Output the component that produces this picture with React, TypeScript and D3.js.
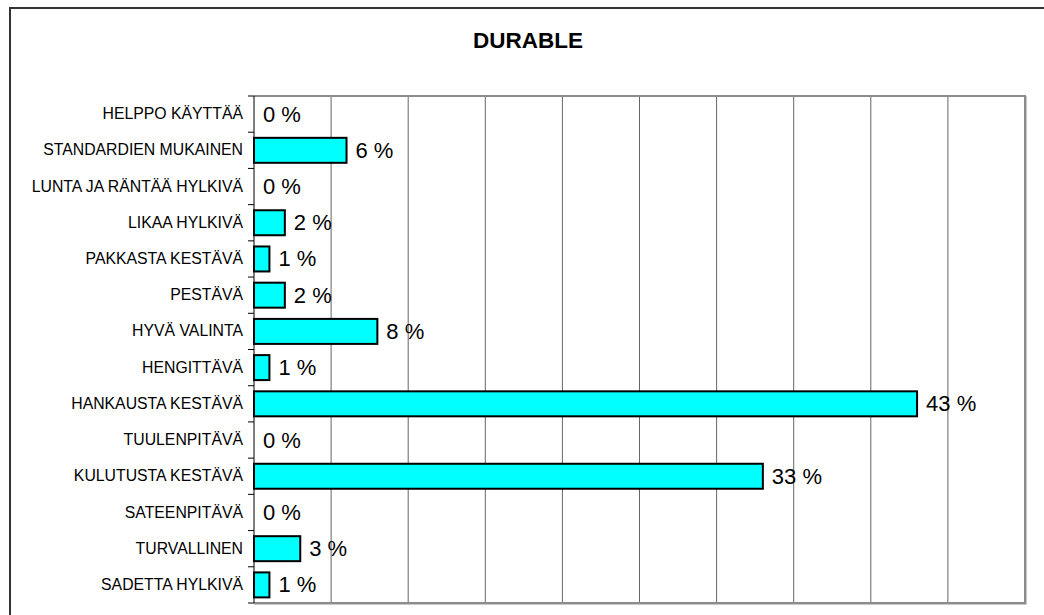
import React, { useRef, useEffect } from 'react';
import * as d3 from 'd3';

const categories = [
  'HELPPO KÄYTTÄÄ',
  'STANDARDIEN MUKAINEN',
  'LUNTA JA RÄNTÄÄ HYLKIVÄ',
  'LIKAA HYLKIVÄ',
  'PAKKASTA KESTÄVÄ',
  'PESTÄVÄ',
  'HYVÄ VALINTA',
  'HENGITTÄVÄ',
  'HANKAUSTA KESTÄVÄ',
  'TUULENPITÄVÄ',
  'KULUTUSTA KESTÄVÄ',
  'SATEENPITÄVÄ',
  'TURVALLINEN',
  'SADETTA HYLKIVÄ',
];
const values = [0, 6, 0, 2, 1, 2, 8, 1, 43, 0, 33, 0, 3, 1];
const gridTicks = [0, 5, 10, 15, 20, 25, 30, 35, 40, 45, 50];
const title = 'DURABLE';

export default function App() {
  const ref = useRef<SVGSVGElement>(null);
  const WIDTH = 1044;
  const HEIGHT = 615;
  const LEFT = 254;
  const RIGHT = 1025;
  const TOP = 96;
  const BOTTOM = 603;
  const FONT = 'Arial, "Liberation Sans", sans-serif';

  useEffect(() => {
    const svg = d3.select(ref.current);
    svg.selectAll('*').remove();

    const data = categories.map((name, i) => ({ name, value: values[i] }));

    const x = d3.scaleLinear().domain([0, 50]).range([LEFT, RIGHT]);
    const y = d3
      .scaleBand()
      .domain(categories)
      .range([TOP, BOTTOM])
      .paddingInner(0.31)
      .paddingOuter(0.155);

    // outer chart frame (runs off the right and bottom)
    svg
      .append('rect')
      .attr('x', 10)
      .attr('y', 8)
      .attr('width', WIDTH + 20)
      .attr('height', HEIGHT + 20)
      .attr('fill', '#fff')
      .attr('stroke', '#333')
      .attr('stroke-width', 2);

    svg
      .append('text')
      .attr('x', 528)
      .attr('y', 48)
      .attr('text-anchor', 'middle')
      .attr('font-family', FONT)
      .attr('font-weight', 'bold')
      .attr('font-size', 22.5)
      .text(title);

    // gridlines
    svg
      .append('g')
      .selectAll('line')
      .data(gridTicks.slice(1, -1))
      .join('line')
      .attr('x1', d => x(d))
      .attr('x2', d => x(d))
      .attr('y1', TOP)
      .attr('y2', BOTTOM)
      .attr('stroke', '#666')
      .attr('stroke-width', 1);

    // plot frame: top, right, bottom in gray
    const frame = svg.append('g').attr('fill', 'none');
    frame
      .append('path')
      .attr('d', `M${LEFT},${TOP}H${RIGHT}V${BOTTOM}H${LEFT}`)
      .attr('stroke', '#8c8c8c')
      .attr('stroke-width', 2);
    frame
      .append('path')
      .attr('d', `M${RIGHT + 1.5},${TOP}V${BOTTOM + 1.5}H${LEFT}`)
      .attr('stroke', '#c8c8c8')
      .attr('stroke-width', 1);

    // bars
    svg
      .append('g')
      .selectAll('rect')
      .data(data.filter(d => d.value > 0))
      .join('rect')
      .attr('x', x(0))
      .attr('y', d => y(d.name)!)
      .attr('width', d => x(d.value) - x(0))
      .attr('height', y.bandwidth())
      .attr('fill', '#00ffff')
      .attr('stroke', '#000')
      .attr('stroke-width', 2);

    // value labels
    svg
      .append('g')
      .selectAll('text')
      .data(data)
      .join('text')
      .attr('x', d => x(d.value) + 9)
      .attr('y', d => y(d.name)! + y.bandwidth() / 2 + 7.5)
      .attr('font-family', FONT)
      .attr('font-size', 22)
      .attr('fill', '#000')
      .text(d => `${d.value} %`);

    // category axis
    const yAxis = d3
      .axisLeft(y)
      .tickSize(0)
      .tickPadding(11);
    const yg = svg
      .append('g')
      .attr('transform', `translate(${LEFT},0)`)
      .call(yAxis);
    yg.select('.domain').remove();
    yg.selectAll('text')
      .attr('font-family', FONT)
      .attr('font-size', 15.8)
      .attr('fill', '#000');

    // axis line and tick marks at category boundaries
    svg
      .append('line')
      .attr('x1', LEFT)
      .attr('x2', LEFT)
      .attr('y1', TOP)
      .attr('y2', BOTTOM)
      .attr('stroke', '#000')
      .attr('stroke-width', 1);
    const bounds = d3.range(categories.length + 1).map(i => TOP + i * y.step());
    svg
      .append('g')
      .selectAll('line')
      .data(bounds)
      .join('line')
      .attr('x1', LEFT - 6)
      .attr('x2', LEFT)
      .attr('y1', d => d)
      .attr('y2', d => d)
      .attr('stroke', '#000')
      .attr('stroke-width', 1);
  }, []);

  return (
    <svg
      ref={ref}
      width={WIDTH}
      height={HEIGHT}
      style={{ position: 'absolute', left: 0, top: 0, background: '#fff' }}
    />
  );
}
